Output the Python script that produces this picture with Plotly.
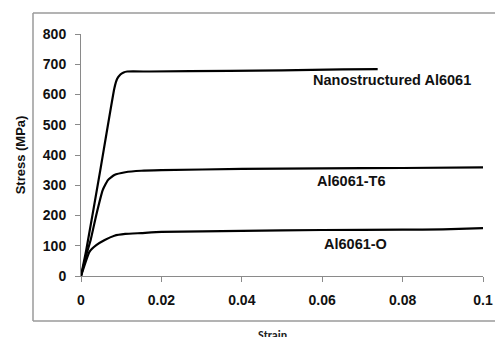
import plotly.graph_objects as go

# Data
nano_strain = [0, 0.0013, 0.0048, 0.0083, 0.009, 0.0098, 0.0106, 0.0115, 0.017, 0.037, 0.05, 0.065, 0.0738]
nano_stress = [0, 85, 350, 621, 652, 666, 673, 676, 676, 678, 680, 683, 684]

t6_strain = [0, 0.0013, 0.0024, 0.0038, 0.0054, 0.0067, 0.0083, 0.011, 0.015, 0.02, 0.04, 0.06, 0.08, 0.1]
t6_stress = [0, 69, 119, 202, 284, 317, 334, 343, 348, 350, 354, 356, 357, 359]

o_strain = [0, 0.0021, 0.0038, 0.0059, 0.0083, 0.011, 0.015, 0.02, 0.04, 0.06, 0.08, 0.09, 0.1]
o_stress = [0, 80, 102, 119, 133, 139, 142, 146, 149, 152, 153, 154, 158]

labels = ["Nanostructured Al6061", "Al6061-T6", "Al6061-O"]
label_pos = [(0.0773, 648), (0.0673, 315), (0.0682, 105)]

x_ticks = [0, 0.02, 0.04, 0.06, 0.08, 0.1]
x_tick_text = ["0", "0.02", "0.04", "0.06", "0.08", "0.1"]
y_ticks = [0, 100, 200, 300, 400, 500, 600, 700, 800]

FONT = "Arial, Liberation Sans, sans-serif"

fig = go.Figure()
for xs, ys in [(nano_strain, nano_stress), (t6_strain, t6_stress), (o_strain, o_stress)]:
    fig.add_trace(go.Scatter(x=xs, y=ys, mode="lines",
                             line=dict(color="black", width=2.2, shape="spline", smoothing=0.4),
                             showlegend=False, hoverinfo="skip"))

for text, (lx, ly) in zip(labels, label_pos):
    fig.add_annotation(x=lx, y=ly, text=text, showarrow=False,
                       font=dict(family=FONT, size=14.5, color="#111111", weight="bold"))

W, H = 495, 337
L, R, T, B = 81, 12, 34, 61
pw, ph = W - L - R, H - T - B

def px(xp):
    return (xp - L) / pw

def py(yp):
    return (H - B - yp) / ph

# Outer chart frame: top, left and bottom edges (right edge lies beyond the image)
frame = dict(color="#9a9a9a", width=1.5)
fx0, fx1, fy0, fy1 = px(33), px(600), py(321), py(13)
for (a, b, c, d) in [(fx0, fy1, fx1, fy1), (fx0, fy0, fx1, fy0), (fx0, fy0, fx0, fy1)]:
    fig.add_shape(type="line", xref="paper", yref="paper", x0=a, y0=b, x1=c, y1=d,
                  line=frame, layer="below")

fig.add_annotation(xref="paper", yref="paper", x=px(272), y=py(326), yanchor="top",
                   text="Strain", showarrow=False,
                   font=dict(family="Carlito, Liberation Sans, sans-serif", size=12, color="#222222", weight="bold"))

fig.update_layout(
    width=W, height=H, autosize=False,
    margin=dict(l=L, r=R, t=T, b=B),
    paper_bgcolor="white", plot_bgcolor="white",
    font=dict(family=FONT, color="#111111"),
    xaxis=dict(range=[0, 0.1], tickvals=x_ticks, ticktext=x_tick_text, automargin=False,
               showgrid=False, zeroline=False, showline=True, linecolor="#8a8a8a", linewidth=1,
               ticks="outside", ticklen=5, tickcolor="#8a8a8a",
               tickfont=dict(family=FONT, size=14, color="#111111", weight="bold"),
               ticklabelstandoff=6),
    yaxis=dict(range=[0, 800], tickvals=y_ticks, automargin=False,
               showgrid=False, zeroline=False, showline=True, linecolor="#8a8a8a", linewidth=1,
               ticks="outside", ticklen=5, tickcolor="#8a8a8a",
               tickfont=dict(family=FONT, size=14, color="#111111", weight="bold"),
               ticklabelstandoff=6,
               title=dict(text="Stress (MPa)", standoff=14,
                          font=dict(family=FONT, size=13, color="#111111", weight="bold"))),
)

fig.write_html("out.html", config={"responsive": False})
